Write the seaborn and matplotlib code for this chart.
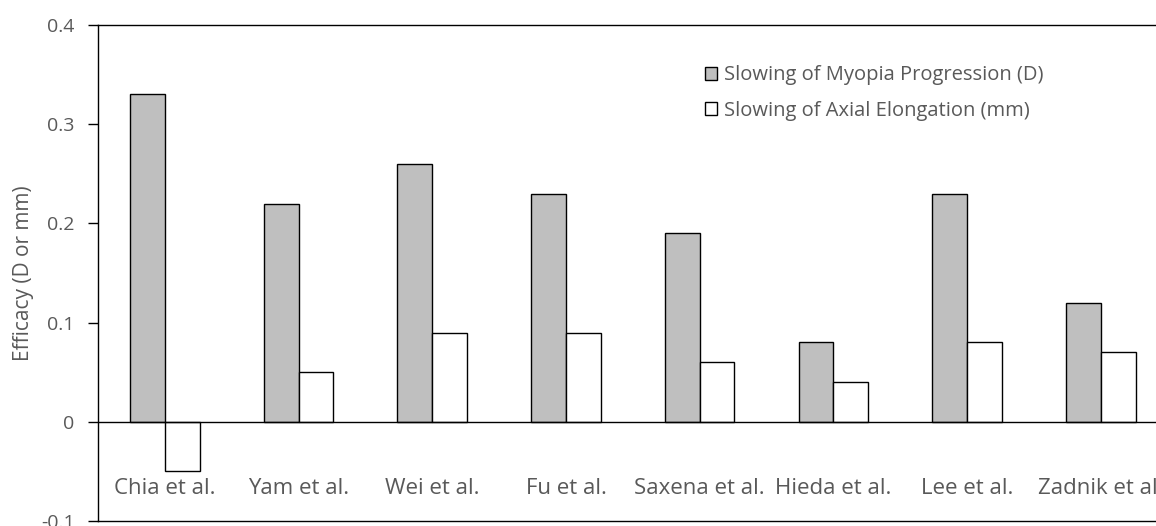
import matplotlib
matplotlib.use("Agg")
import matplotlib.pyplot as plt
import seaborn as sns
import pandas as pd

studies = ["Chia et al.", "Yam et al.", "Wei et al.", "Fu et al.", "Saxena et al.",
           "Hieda et al.", "Lee et al.", "Zadnik et al."]
myopia = [0.33, 0.22, 0.26, 0.23, 0.19, 0.08, 0.23, 0.12]
axial = [-0.05, 0.05, 0.09, 0.09, 0.06, 0.04, 0.08, 0.07]
series_names = ["Slowing of Myopia Progression (D)", "Slowing of Axial Elongation (mm)"]
yticks = [-0.1, 0, 0.1, 0.2, 0.3, 0.4]
ytick_labels = ["-0.1", "0", "0.1", "0.2", "0.3", "0.4"]

df = pd.DataFrame({
    "study": studies * 2,
    "value": myopia + axial,
    "series": [series_names[0]] * len(studies) + [series_names[1]] * len(studies),
})

sns.set_theme(style="white")
plt.rcParams["font.family"] = ["Open Sans", "DejaVu Sans"]
text_color = "#595959"

fig = plt.figure(figsize=(11.56, 5.26), dpi=100)
ax = fig.add_axes([98 / 1156, 1 - 521 / 526, 8 * 133.7 / 1156, (521 - 25) / 526])

sns.barplot(data=df, x="study", y="value", hue="series", order=studies,
            hue_order=series_names, palette=["#BFBFBF", "#FFFFFF"],
            edgecolor="black", linewidth=1.0, width=0.52, gap=0, ax=ax,
            saturation=1, errorbar=None)

ax.set_xlim(-0.5, 7.5)
ax.set_ylim(-0.1, 0.4)
ax.set_yticks(yticks)
ax.set_yticklabels(ytick_labels)
ax.axhline(0, color="black", linewidth=1.0, zorder=3)

for side in ["left", "top", "bottom"]:
    ax.spines[side].set_visible(True)
    ax.spines[side].set_color("black")
    ax.spines[side].set_linewidth(1.0)
ax.spines["right"].set_visible(False)

ax.tick_params(axis="y", which="major", left=True, length=7, width=1, color="black",
               labelsize=14, labelcolor=text_color, pad=10)
ax.tick_params(axis="x", bottom=False, labelsize=16, labelcolor=text_color, pad=-37)
ax.set_xlabel("")
ax.set_ylabel("Efficacy (D or mm)", fontsize=15, color=text_color, labelpad=5)

handles, labels = ax.get_legend_handles_labels()
ax.legend(handles, labels, frameon=False, loc="center left",
          bbox_to_anchor=(705 / 1156, 1 - 93 / 526), bbox_transform=fig.transFigure,
          fontsize=14.5, labelcolor=text_color, handlelength=0.6, handleheight=0.6,
          handletextpad=0.35, labelspacing=0.75, borderaxespad=0, borderpad=0)

fig.savefig("out.png", dpi=100)
